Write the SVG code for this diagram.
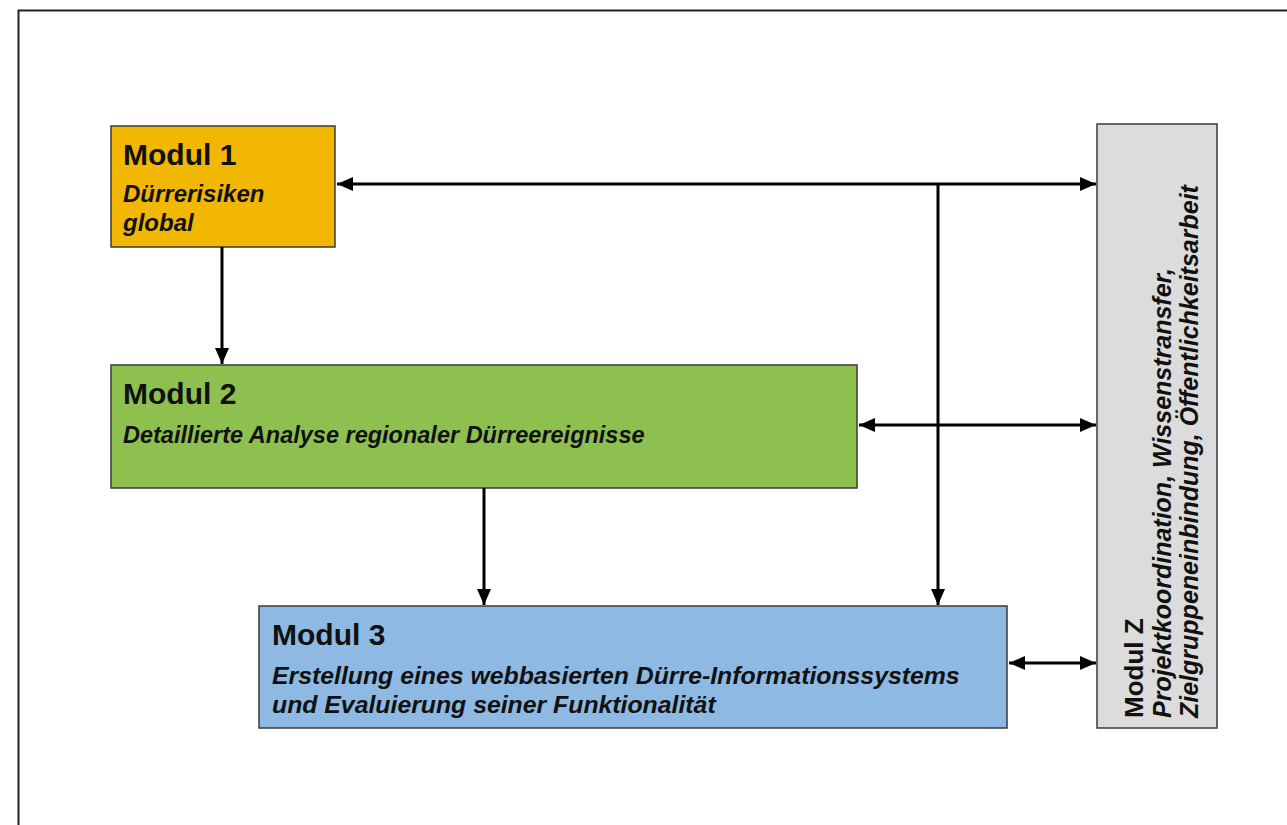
<svg xmlns="http://www.w3.org/2000/svg" width="1287" height="825" viewBox="0 0 1287 825">
<style>
.box{stroke:#3a3a3a;stroke-width:1.5}
.h{font-family:"Liberation Sans",Arial,sans-serif;font-weight:bold;font-size:30px;fill:#111}
.t{font-family:"Liberation Sans",Arial,sans-serif;font-weight:bold;font-style:italic;font-size:24px;fill:#111}
.c{stroke:#000;stroke-width:3;fill:none}
</style>
<defs>
<marker id="ah" viewBox="0 0 16 14" refX="16" refY="7" markerWidth="16" markerHeight="14" markerUnits="userSpaceOnUse" orient="auto-start-reverse">
<path d="M0,0 L16,7 L0,14 Z" fill="#000"/>
</marker>
</defs>
<rect width="1287" height="825" fill="#fff"/>
<path d="M18.5,825 V10.5 H1287" fill="none" stroke="#222" stroke-width="2"/>
<g id="modul1">
<rect class="box" x="111" y="126" width="224" height="121" fill="#F2B700"/>
<text class="h" x="123" y="165">Modul 1</text>
<text class="t" x="123" y="202">Dürrerisiken</text>
<text class="t" x="123" y="231">global</text>
</g>
<g id="modul2">
<rect class="box" x="111" y="365" width="746" height="123" fill="#8DC04F"/>
<text class="h" x="123" y="404">Modul 2</text>
<text class="t" x="123" y="443" style="font-size:23.5px">Detaillierte Analyse regionaler Dürreereignisse</text>
</g>
<g id="modul3">
<rect class="box" x="259" y="606" width="748" height="122" fill="#8DB9E2"/>
<text class="h" x="272" y="645">Modul 3</text>
<text class="t" x="272" y="684" style="font-size:24.8px">Erstellung eines webbasierten Dürre-Informationssystems</text>
<text class="t" x="272" y="713" style="font-size:24.8px">und Evaluierung seiner Funktionalität</text>
</g>
<g id="modulZ">
<rect class="box" x="1097" y="124" width="120" height="604" fill="#DCDCDC"/>
<text class="h" style="font-size:26px" transform="translate(1143,718) rotate(-90)">Modul Z</text>
<text class="t" style="font-size:25px" transform="translate(1171,718) rotate(-90)">Projektkoordination, Wissenstransfer,</text>
<text class="t" style="font-size:25px" transform="translate(1198,718) rotate(-90)">Zielgruppeneinbindung, Öffentlichkeitsarbeit</text>
</g>
<g id="connectors">
<line class="c" x1="337" y1="184" x2="1096" y2="184" marker-start="url(#ah)" marker-end="url(#ah)"/>
<line class="c" x1="938" y1="184" x2="938" y2="605" marker-end="url(#ah)"/>
<line class="c" x1="222" y1="247" x2="222" y2="364" marker-end="url(#ah)"/>
<line class="c" x1="484" y1="488" x2="484" y2="605" marker-end="url(#ah)"/>
<line class="c" x1="859" y1="425" x2="1096" y2="425" marker-start="url(#ah)" marker-end="url(#ah)"/>
<line class="c" x1="1009" y1="663" x2="1096" y2="663" marker-start="url(#ah)" marker-end="url(#ah)"/>
</g>
</svg>
